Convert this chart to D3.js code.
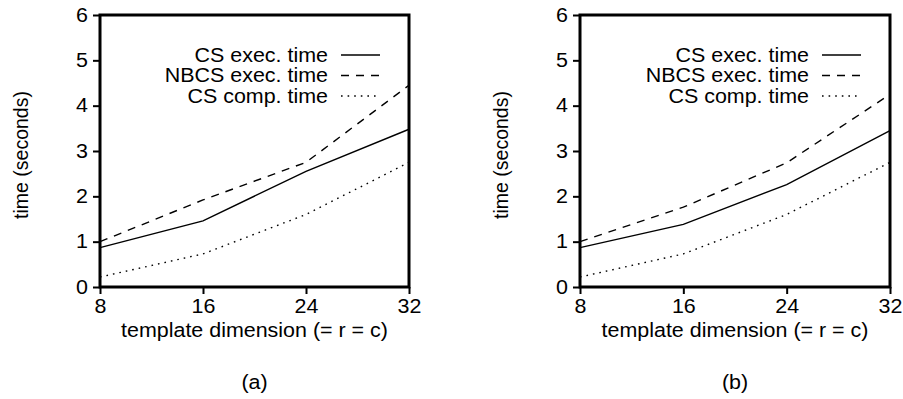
<!DOCTYPE html>
<html>
<head>
<meta charset="utf-8">
<script src="https://cdn.jsdelivr.net/npm/d3@7"></script>
<style>
  body { margin: 0; background: #fff; }
  text { font-family: "Liberation Sans", Arial, Helvetica, sans-serif; fill: #000; }
</style>
</head>
<body>
<svg id="chart" width="903" height="399"></svg>
<script>
// template dimension (= r = c)
var dims = [8, 16, 24, 32]
var yTicks = [0, 1, 2, 3, 4, 5, 6]

// panel (a)
var csExecA = [0.87, 1.46, 2.55, 3.48]
var nbcsExecA = [1.0, 1.92, 2.75, 4.45]
var csCompA = [0.22, 0.73, 1.6, 2.75]

// panel (b)
var csExecB = [0.87, 1.38, 2.26, 3.45]
var nbcsExecB = [1.0, 1.76, 2.74, 4.25]
var csCompB = [0.22, 0.73, 1.6, 2.75]

var seriesNames = ['CS exec. time', 'NBCS exec. time', 'CS comp. time']
var dashes = [null, '8,7', '1.6,5']

var fontSize = '19.5px'
var stretch = 1.1

const svg = d3.select('#chart')

// the original glyphs are a bit wider than Liberation Sans, widen them around their anchor
function widen(sel) {
    sel.each(function() {
        var t = d3.select(this)
        var x = +t.attr('x') || 0
        t.attr('transform', 'translate(' + x + ',0) scale(' + stretch + ',1) translate(' + (-x) + ',0)')
    })
}

function drawPanel(left, right, caption, labelX, values) {
    var top = 15, bottom = 287

    var x = d3.scaleLinear().domain([8, 32]).range([left, right])
    var y = d3.scaleLinear().domain([0, 6]).range([bottom, top])

    const g = svg.append('g')

    // data lines
    var line = d3.line()
        .x((d, i) => x(dims[i]))
        .y(d => y(d))

    values.forEach((vals, i) => {
        g.append('path')
            .datum(vals)
            .attr('d', line)
            .attr('fill', 'none')
            .attr('stroke', '#000')
            .attr('stroke-width', 1.4)
            .attr('stroke-dasharray', dashes[i])
    })

    // axes
    const yAxis = g.append('g')
        .attr('transform', 'translate(' + left + ',0)')
        .call(d3.axisLeft(y).tickValues(yTicks).tickFormat(d3.format('d')).tickSize(7).tickPadding(5))
    const xAxis = g.append('g')
        .attr('transform', 'translate(0,' + bottom + ')')
        .call(d3.axisBottom(x).tickValues(dims).tickFormat(d3.format('d')).tickSize(7))

    ;[yAxis, xAxis].forEach(ax => {
        ax.select('.domain').remove()
        ax.selectAll('line').attr('stroke', '#000').attr('stroke-width', 2)
        ax.selectAll('text')
            .style('font-family', '"Liberation Sans", Arial, sans-serif')
            .style('font-size', fontSize)
            .attr('fill', '#000')
    })
    xAxis.selectAll('text').attr('dy', '0.71em').attr('y', 12)
    widen(yAxis.selectAll('text'))
    widen(xAxis.selectAll('text'))

    // frame
    g.append('rect')
        .attr('x', left)
        .attr('y', top)
        .attr('width', right - left)
        .attr('height', bottom - top)
        .attr('fill', 'none')
        .attr('stroke', '#000')
        .attr('stroke-width', 3)

    // legend
    var legendTextX = right - 81,
        lineStart = right - 68,
        lineEnd = right - 29,
        lineheight = 20.5

    seriesNames.forEach((name, i) => {
        var ly = 55 + i * lineheight
        g.append('text')
            .attr('class', 'legend-label')
            .attr('x', legendTextX)
            .attr('y', ly)
            .attr('dy', '0.35em')
            .attr('text-anchor', 'end')
            .style('font-size', fontSize)
            .text(name)
        g.append('line')
            .attr('x1', lineStart)
            .attr('x2', lineEnd)
            .attr('y1', ly)
            .attr('y2', ly)
            .attr('stroke', '#000')
            .attr('stroke-width', 1.4)
            .attr('stroke-dasharray', dashes[i])
    })
    widen(g.selectAll('.legend-label'))

    // axis titles
    g.append('text')
        .attr('class', 'wide')
        .attr('x', (left + right) / 2)
        .attr('y', 337)
        .attr('text-anchor', 'middle')
        .style('font-size', fontSize)
        .text('template dimension (= r = c)')

    g.append('text')
        .attr('transform', 'translate(' + labelX + ',' + 155 + ') rotate(-90)')
        .attr('text-anchor', 'middle')
        .style('font-size', fontSize)
        .text('time (seconds)')

    g.append('text')
        .attr('class', 'wide')
        .attr('x', (left + right) / 2)
        .attr('y', 389)
        .attr('text-anchor', 'middle')
        .style('font-size', fontSize)
        .text(caption)
    widen(g.selectAll('.wide'))
}

drawPanel(100, 409, '(a)', 28, [csExecA, nbcsExecA, csCompA])
drawPanel(580, 890, '(b)', 508, [csExecB, nbcsExecB, csCompB])
</script>
</body>
</html>
